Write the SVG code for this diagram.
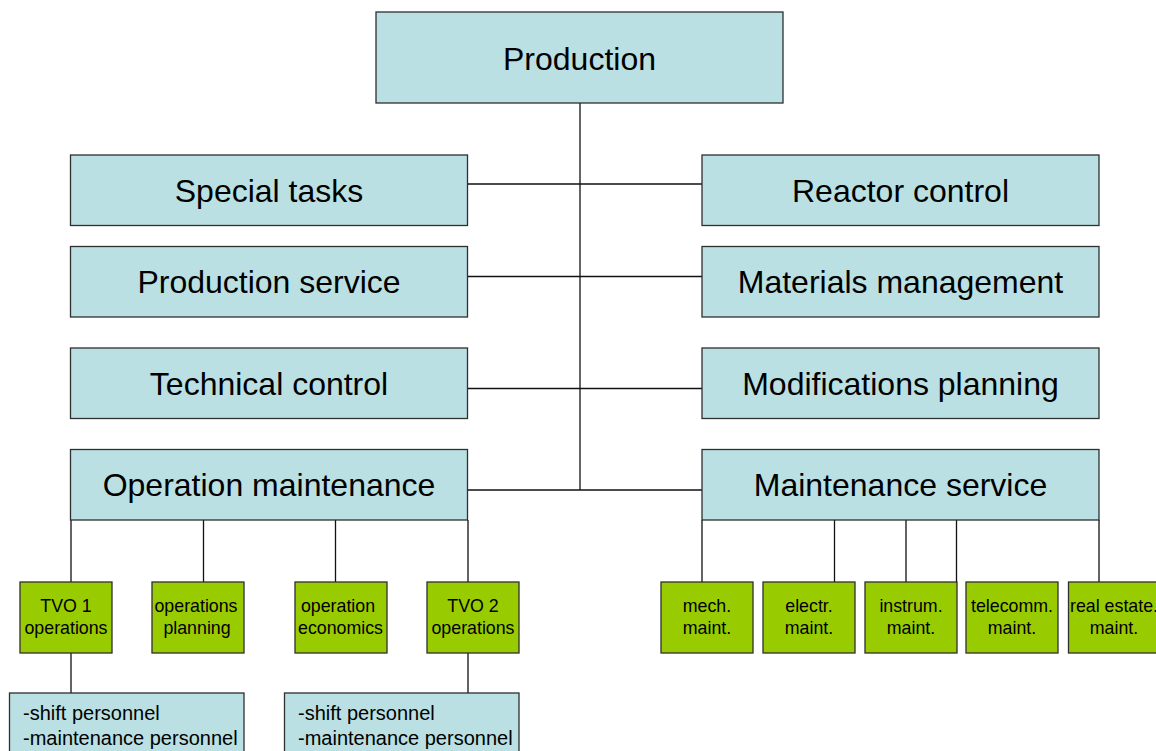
<svg xmlns="http://www.w3.org/2000/svg" width="1156" height="751" viewBox="0 0 1156 751">
<style>
.b{fill:#BAE0E3;stroke:#2F2F2F;stroke-width:1.3}
.g{fill:#99CC00;stroke:#2F2F2F;stroke-width:1.3}
.t{font-family:"Liberation Sans",Arial,sans-serif;font-size:32px;fill:#000;text-anchor:middle}
.s{font-family:"Liberation Sans",Arial,sans-serif;font-size:17.8px;fill:#000;text-anchor:middle}
.p{font-family:"Liberation Sans",Arial,sans-serif;font-size:20px;fill:#000}
.c{fill:none;stroke:#111;stroke-width:1.3}
</style>
<rect width="1156" height="751" fill="#fff"/>
<g id="connectors">
<path class="c" d="M580 103V490"/>
<path class="c" d="M467.5 184H702"/>
<path class="c" d="M467.5 276.5H702"/>
<path class="c" d="M467.5 388.5H702"/>
<path class="c" d="M467.5 490H702"/>
<path class="c" d="M71 520V582M203.5 520V582M335.5 520V582M468 520V582"/>
<path class="c" d="M71 653V693M468 653V693"/>
<path class="c" d="M702 520V582M834.5 520V582M906 520V582M956.5 520V582M1099 520V582"/>
</g>
<g id="production"><rect class="b" x="376" y="12" width="407" height="91"/><text class="t" x="579.5" y="69.5">Production</text></g>
<g id="special-tasks"><rect class="b" x="70.5" y="155" width="397" height="70.5"/><text class="t" x="269" y="201.5">Special tasks</text></g>
<g id="production-service"><rect class="b" x="70.5" y="246.5" width="397" height="70.5"/><text class="t" x="269" y="293">Production service</text></g>
<g id="technical-control"><rect class="b" x="70.5" y="348" width="397" height="70.5"/><text class="t" x="269" y="394.5">Technical control</text></g>
<g id="operation-maintenance"><rect class="b" x="70.5" y="449.5" width="397" height="70.5"/><text class="t" x="269" y="496">Operation maintenance</text></g>
<g id="reactor-control"><rect class="b" x="702" y="155" width="397" height="70.5"/><text class="t" x="900.5" y="201.5">Reactor control</text></g>
<g id="materials-management"><rect class="b" x="702" y="246.5" width="397" height="70.5"/><text class="t" x="900.5" y="293">Materials management</text></g>
<g id="modifications-planning"><rect class="b" x="702" y="348" width="397" height="70.5"/><text class="t" x="900.5" y="394.5">Modifications planning</text></g>
<g id="maintenance-service"><rect class="b" x="702" y="449.5" width="397" height="70.5"/><text class="t" x="900.5" y="496">Maintenance service</text></g>
<g id="tvo1"><rect class="g" x="20" y="582" width="92" height="71"/><text class="s" x="66" y="611.5">TVO 1</text><text class="s" x="66" y="633.5">operations</text></g>
<g id="operations-planning"><rect class="g" x="152" y="582" width="92" height="71"/><text class="s" x="196" y="611.5">operations</text><text class="s" x="197" y="633.5">planning</text></g>
<g id="operation-economics"><rect class="g" x="295" y="582" width="92" height="71"/><text class="s" x="338" y="611.5">operation</text><text class="s" x="340.5" y="633.5">economics</text></g>
<g id="tvo2"><rect class="g" x="427" y="582" width="92" height="71"/><text class="s" x="473" y="611.5">TVO 2</text><text class="s" x="473" y="633.5">operations</text></g>
<g id="mech"><rect class="g" x="661" y="582" width="92" height="71"/><text class="s" x="707" y="611.5">mech.</text><text class="s" x="707" y="633.5">maint.</text></g>
<g id="electr"><rect class="g" x="763" y="582" width="92" height="71"/><text class="s" x="809" y="611.5">electr.</text><text class="s" x="809" y="633.5">maint.</text></g>
<g id="instrum"><rect class="g" x="865" y="582" width="92" height="71"/><text class="s" x="911" y="611.5">instrum.</text><text class="s" x="911" y="633.5">maint.</text></g>
<g id="telecomm"><rect class="g" x="966" y="582" width="92" height="71"/><text class="s" x="1012" y="611.5">telecomm.</text><text class="s" x="1012" y="633.5">maint.</text></g>
<g id="real-estate"><rect class="g" x="1068.5" y="582" width="92" height="71"/><text class="s" x="1114" y="611.5">real estate.</text><text class="s" x="1114" y="633.5">maint.</text></g>
<g id="personnel-1"><rect class="b" x="9.5" y="693" width="234.5" height="70"/><text class="p" x="23" y="720">-shift personnel</text><text class="p" x="23" y="745">-maintenance personnel</text></g>
<g id="personnel-2"><rect class="b" x="284.5" y="693" width="234.5" height="70"/><text class="p" x="298" y="720">-shift personnel</text><text class="p" x="298" y="745">-maintenance personnel</text></g>
</svg>
